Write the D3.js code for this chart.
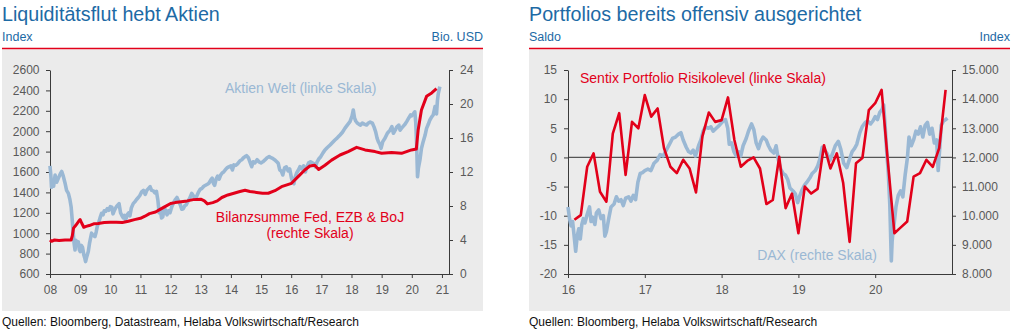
<!DOCTYPE html>
<html>
<head>
<meta charset="utf-8">
<script src="https://cdn.jsdelivr.net/npm/d3@7"></script>
<style>
  body { margin: 0; background: #fff; }
  svg { display: block; font-family: "Liberation Sans", Arial, sans-serif; }
</style>
</head>
<body>
<svg id="chart" width="1013" height="332"></svg>
<script>
// ---------- data ----------
// MSCI World ("Aktien Welt"), index points, [year, value]
const aktienWelt = [
  [2008.00,1660],[2008.03,1560],[2008.05,1450],[2008.09,1500],[2008.12,1460],[2008.17,1570],[2008.22,1500],
  [2008.28,1540],[2008.34,1580],[2008.39,1605],[2008.44,1560],[2008.50,1490],[2008.55,1420],[2008.61,1390],
  [2008.66,1330],[2008.70,1260],[2008.74,1120],[2008.77,1000],[2008.80,900],[2008.83,835],[2008.86,930],
  [2008.89,880],[2008.94,915],[2008.97,840],[2009.00,820],[2009.04,880],[2009.08,860],[2009.12,790],
  [2009.15,760],[2009.18,722],[2009.22,770],[2009.27,820],[2009.31,900],[2009.35,960],[2009.38,1000],
  [2009.43,980],[2009.49,966],[2009.53,1010],[2009.57,1070],[2009.61,1100],[2009.66,1150],[2009.71,1195],
  [2009.76,1180],[2009.80,1220],[2009.85,1215],[2009.90,1240],[2009.95,1225],[2010.00,1260],[2010.05,1255],
  [2010.09,1190],[2010.13,1220],[2010.18,1250],[2010.23,1270],[2010.29,1290],[2010.34,1200],[2010.38,1175],
  [2010.43,1150],[2010.47,1175],[2010.51,1130],[2010.56,1180],[2010.61,1200],[2010.65,1170],[2010.70,1250],
  [2010.76,1290],[2010.82,1310],[2010.87,1330],[2010.93,1350],[2010.98,1370],[2011.04,1405],[2011.10,1420],
  [2011.16,1380],[2011.21,1420],[2011.27,1440],[2011.32,1456],[2011.37,1420],[2011.43,1415],[2011.48,1395],
  [2011.53,1410],[2011.58,1320],[2011.62,1200],[2011.66,1230],[2011.70,1150],[2011.74,1160],[2011.79,1250],
  [2011.84,1220],[2011.88,1180],[2011.93,1220],[2011.98,1200],[2012.04,1260],[2012.10,1300],[2012.16,1330],
  [2012.21,1350],[2012.27,1310],[2012.32,1280],[2012.37,1235],[2012.42,1240],[2012.47,1270],[2012.52,1280],
  [2012.57,1310],[2012.63,1340],[2012.70,1390],[2012.75,1370],[2012.80,1340],[2012.86,1360],[2012.92,1400],
  [2012.98,1430],[2013.04,1440],[2013.10,1460],[2013.16,1470],[2013.22,1480],[2013.27,1490],[2013.33,1520],
  [2013.38,1540],[2013.42,1490],[2013.46,1470],[2013.51,1530],[2013.56,1560],[2013.61,1530],[2013.66,1570],
  [2013.71,1590],[2013.76,1600],[2013.81,1620],[2013.87,1640],[2013.93,1650],[2014.00,1660],[2014.05,1620],
  [2014.10,1670],[2014.16,1665],[2014.22,1680],[2014.30,1710],[2014.36,1720],[2014.42,1740],[2014.47,1751],
  [2014.52,1760],[2014.58,1740],[2014.63,1700],[2014.69,1652],[2014.74,1700],[2014.80,1690],[2014.87,1720],
  [2014.93,1700],[2015.00,1690],[2015.06,1700],[2015.13,1718],[2015.20,1740],[2015.27,1751],[2015.33,1740],
  [2015.40,1730],[2015.46,1718],[2015.52,1700],[2015.57,1685],[2015.62,1620],[2015.67,1610],[2015.72,1571],
  [2015.78,1640],[2015.84,1650],[2015.90,1610],[2015.95,1630],[2016.01,1540],[2016.05,1500],[2016.09,1485],
  [2016.12,1540],[2016.18,1590],[2016.24,1620],[2016.29,1652],[2016.35,1630],[2016.41,1660],[2016.47,1600],
  [2016.52,1650],[2016.58,1690],[2016.64,1700],[2016.70,1690],[2016.76,1680],[2016.80,1650],[2016.86,1700],
  [2016.92,1730],[2016.98,1750],[2017.06,1790],[2017.12,1816],[2017.20,1840],[2017.29,1865],[2017.37,1890],
  [2017.45,1914],[2017.53,1935],[2017.62,1963],[2017.70,1990],[2017.78,2028],[2017.86,2060],[2017.95,2094],
  [2018.02,2150],[2018.06,2208],[2018.10,2130],[2018.14,2100],[2018.19,2080],[2018.24,2070],[2018.30,2060],
  [2018.36,2080],[2018.42,2070],[2018.50,2061],[2018.56,2080],[2018.62,2090],[2018.69,2080],[2018.75,2040],
  [2018.80,1995],[2018.85,1930],[2018.89,1897],[2018.94,1870],[2018.98,1832],[2019.04,1900],[2019.11,1930],
  [2019.19,1980],[2019.28,2010],[2019.34,2045],[2019.39,1980],[2019.45,2010],[2019.50,2040],[2019.57,2060],
  [2019.61,2010],[2019.66,2030],[2019.72,2050],[2019.78,2070],[2019.83,2094],[2019.90,2130],[2019.96,2159],
  [2019.99,2150],[2020.05,2170],[2020.10,2190],[2020.13,2090],[2020.16,1881],[2020.19,1554],[2020.22,1640],
  [2020.27,1718],[2020.32,1830],[2020.38,1900],[2020.44,1960],[2020.49,2028],[2020.55,2070],[2020.60,2110],
  [2020.66,2140],[2020.71,2159],[2020.74,2200],[2020.77,2241],[2020.80,2180],[2020.82,2170],[2020.85,2300],
  [2020.88,2371],[2020.93,2437]
];

// Bilanzsumme Fed, EZB & BoJ, Bio. USD, [year, value]
const bilanzsumme = [
  [2008.00,4.0],[2008.05,3.85],[2008.15,4.0],[2008.30,3.95],[2008.50,4.0],[2008.70,4.0],[2008.74,4.5],
  [2008.78,5.4],[2008.85,5.7],[2008.95,6.2],[2009.00,6.4],[2009.05,6.0],[2009.12,5.5],[2009.20,5.6],
  [2009.30,5.7],[2009.45,5.9],[2009.60,5.95],[2009.80,6.05],[2010.00,6.1],[2010.20,6.1],[2010.40,6.05],
  [2010.60,6.2],[2010.80,6.4],[2011.00,6.55],[2011.15,6.8],[2011.30,7.1],[2011.50,7.3],[2011.65,7.6],
  [2011.80,7.9],[2012.00,8.3],[2012.15,8.4],[2012.35,8.5],[2012.55,8.6],[2012.75,8.75],[2013.00,8.8],
  [2013.12,8.6],[2013.22,8.25],[2013.40,8.4],[2013.55,8.6],[2013.70,9.0],[2013.90,9.3],[2014.10,9.5],
  [2014.30,9.7],[2014.47,9.85],[2014.63,9.7],[2014.85,9.6],[2015.05,9.5],[2015.24,9.5],[2015.46,9.8],
  [2015.68,10.27],[2016.01,10.67],[2016.23,11.45],[2016.45,12.24],[2016.62,12.7],[2016.78,12.8],
  [2016.91,12.3],[2017.12,12.8],[2017.34,13.4],[2017.62,14.0],[2017.89,14.4],[2018.17,14.9],[2018.45,14.6],
  [2018.78,14.4],[2019.00,14.2],[2019.33,14.3],[2019.66,14.2],[2019.99,14.6],[2020.15,14.7],[2020.21,16.9],
  [2020.32,19.3],[2020.49,20.9],[2020.66,21.3],[2020.82,21.8]
];

// Sentix Portfolio Risikolevel, monthly from Feb 2016
const sentixStart = [2016, 2];
const sentix = [
  -10.7, -9.9, -1.6, 0.7, -5.9, -7.6, 4.1, 7.6, -3.0, 6.1, 5.0,
  10.7, 7.0, 8.4, 1.6, -1.6, -2.7, -0.4, -1.9, -6.0, 3.6, 7.7, 6.1,
  6.4, 10.3, 3.0, -1.6, -0.6, 0.0, -1.9, -8.0, -7.3, 0.1, -8.7, -6.2,
  -13.0, -5.0, -6.2, -5.4, 2.1, -1.9, 0.7, -4.4, -14.5, -1.0, -0.1, 8.1,
  9.3, 11.6, -1.0, -13.0, -12.0, -11.0, -3.3, -2.7, -0.4, -1.6, 1.6, 11.6
];

// DAX, index points, [year, value]
const dax = [
  [2016.00,10300],[2016.02,9900],[2016.04,9650],[2016.06,9800],[2016.08,9300],[2016.10,8780],[2016.12,9300],
  [2016.14,9550],[2016.16,9200],[2016.18,9700],[2016.20,9900],[2016.22,9750],[2016.25,10050],[2016.28,10300],
  [2016.30,9800],[2016.32,9950],[2016.35,9700],[2016.37,10100],[2016.40,10200],[2016.43,9900],[2016.46,10000],
  [2016.48,9300],[2016.50,9450],[2016.53,9900],[2016.56,10300],[2016.60,10400],[2016.63,10650],[2016.66,10500],
  [2016.69,10550],[2016.72,10350],[2016.75,10600],[2016.79,10650],[2016.82,10500],[2016.85,10700],[2016.88,10550],
  [2016.91,11150],[2016.94,11450],[2016.97,11480],[2017.00,11550],[2017.04,11600],[2017.08,11550],[2017.12,11800],
  [2017.16,11900],[2017.20,12100],[2017.24,12050],[2017.28,12250],[2017.32,12450],[2017.36,12650],[2017.40,12700],
  [2017.44,12800],[2017.47,12850],[2017.50,12600],[2017.54,12350],[2017.57,12200],[2017.60,12150],[2017.63,12250],
  [2017.66,12050],[2017.70,12400],[2017.73,12600],[2017.76,12900],[2017.79,13050],[2017.83,13000],[2017.86,13050],
  [2017.89,12900],[2017.93,13000],[2017.97,13100],[2018.02,13250],[2018.05,13300],[2018.08,13000],[2018.10,12450],
  [2018.13,12500],[2018.16,12200],[2018.19,12050],[2018.22,12200],[2018.25,12050],[2018.28,12400],[2018.32,12650],
  [2018.35,12900],[2018.39,13150],[2018.42,12950],[2018.45,12500],[2018.48,12300],[2018.51,12550],[2018.54,12700],
  [2018.58,12600],[2018.61,12400],[2018.64,12250],[2018.68,12150],[2018.71,12400],[2018.74,11900],[2018.77,11600],
  [2018.80,11450],[2018.83,11400],[2018.86,11250],[2018.89,10950],[2018.93,10850],[2018.96,10750],[2018.99,10450],
  [2019.02,10700],[2019.05,10900],[2019.08,11050],[2019.11,11150],[2019.15,11300],[2019.18,11450],[2019.22,11550],
  [2019.25,11700],[2019.28,11950],[2019.31,12350],[2019.34,12250],[2019.37,12150],[2019.41,11900],[2019.44,12100],
  [2019.48,12400],[2019.52,12550],[2019.55,12300],[2019.59,11800],[2019.63,11650],[2019.66,11900],[2019.70,12200],
  [2019.73,12300],[2019.76,12450],[2019.80,12850],[2019.83,13050],[2019.87,13200],[2019.90,13250],[2019.94,13150],
  [2019.97,13250],[2020.00,13400],[2020.03,13300],[2020.06,13550],[2020.09,13650],[2020.11,13800],[2020.13,13050],
  [2020.15,12200],[2020.17,11500],[2020.19,10400],[2020.21,8450],[2020.22,9100],[2020.23,9400],[2020.25,9800],
  [2020.27,10300],[2020.30,10700],[2020.33,10850],[2020.36,10650],[2020.39,11400],[2020.42,12000],[2020.44,12700],
  [2020.47,12400],[2020.50,12600],[2020.53,12900],[2020.56,12800],[2020.59,13050],[2020.62,12700],[2020.65,13100],
  [2020.68,13200],[2020.71,12800],[2020.74,13000],[2020.77,12500],[2020.80,12600],[2020.82,11550],[2020.84,12300],
  [2020.86,13100],[2020.89,13250],[2020.92,13300],[2020.94,13350]
];

// axis ticks
const leftYears = [2008,2009,2010,2011,2012,2013,2014,2015,2016,2017,2018,2019,2020,2021];
const leftYearLabels = ["08","09","10","11","12","13","14","15","16","17","18","19","20","21"];
const worldTicks = [600,800,1000,1200,1400,1600,1800,2000,2200,2400,2600];
const balanceTicks = [0,4,8,12,16,20,24];
const rightYears = [2016,2017,2018,2019,2020];
const rightYearLabels = ["16","17","18","19","20"];
const sentixTicks = [-20,-15,-10,-5,0,5,10,15];
const daxTicks = [8000,9000,10000,11000,12000,13000,14000,15000];

// ---------- styling ----------
const BLUE_TXT = "#1d6aa5";
const RED = "#e2001a";
const LINE_BLUE = "#9ab8d4";
const PANEL_BG = "#ebebeb";
const TICK_TXT = "#595959";
const AXIS = "#3a3a3a";

const de = d3.formatLocale({decimal: ",", thousands: ".", grouping: [3], currency: ["", " €"], minus: "-"});
const fmtThousands = de.format(",");
const fmtPlain = de.format("d");

const svg = d3.select("#chart");

function styleAxis(g) {
  g.selectAll(".domain").attr("stroke", AXIS).attr("stroke-width", 1);
  g.selectAll(".tick line").attr("stroke", AXIS).attr("stroke-width", 1);
  g.selectAll(".tick text").attr("fill", TICK_TXT).style("font-size", "12px")
    .style("font-family", "'Liberation Sans', Arial, sans-serif");
}

function panelFrame(x0, x1, title, leftUnit, rightUnit, source) {
  svg.append("text").attr("x", x0).attr("y", 21)
    .attr("fill", BLUE_TXT).style("font-size", "19.7px").text(title);
  svg.append("text").attr("x", x0).attr("y", 40.7)
    .attr("fill", BLUE_TXT).style("font-size", "12.5px").text(leftUnit);
  svg.append("text").attr("x", x1).attr("y", 40.7).attr("text-anchor", "end")
    .attr("fill", BLUE_TXT).style("font-size", "12.5px").text(rightUnit);
  svg.append("rect").attr("x", x0).attr("y", 49.5).attr("width", x1 - x0).attr("height", 261.5)
    .attr("fill", PANEL_BG);
  svg.append("line").attr("x1", x0).attr("x2", x1).attr("y1", 48.6).attr("y2", 48.6)
    .attr("stroke", RED).attr("stroke-width", 1.5);
  svg.append("text").attr("x", x0).attr("y", 326)
    .attr("fill", "#111").style("font-size", "12px").text(source);
}

// ---------- left panel ----------
panelFrame(2, 483, "Liquiditätsflut hebt Aktien", "Index", "Bio. USD",
  "Quellen: Bloomberg, Datastream, Helaba Volkswirtschaft/Research");

const xL = d3.scaleLinear().domain([2008, 2021.234]).range([50, 449]);
const yWorld = d3.scaleLinear().domain([600, 2600]).range([274, 70]);
const yBal = d3.scaleLinear().domain([0, 24]).range([274, 70]);

const gL = svg.append("g");
gL.append("g").attr("transform", "translate(50,0)")
  .call(d3.axisLeft(yWorld).tickValues(worldTicks).tickFormat(fmtPlain)
    .tickSize(4).tickSizeOuter(0).tickPadding(6.5))
  .call(styleAxis);
gL.append("g").attr("transform", "translate(449,0)")
  .call(d3.axisRight(yBal).tickValues(balanceTicks).tickFormat(fmtPlain)
    .tickSize(4).tickSizeOuter(0).tickPadding(7))
  .call(styleAxis);
gL.append("g").attr("transform", "translate(0,274)")
  .call(d3.axisBottom(xL).tickValues(leftYears).tickFormat((d, i) => leftYearLabels[i])
    .tickSize(4).tickSizeOuter(0).tickPadding(7.5))
  .call(styleAxis);

gL.append("path").datum(aktienWelt)
  .attr("fill", "none").attr("stroke", LINE_BLUE).attr("stroke-width", 3.6)
  .attr("stroke-linejoin", "round")
  .attr("d", d3.line().x(d => xL(d[0])).y(d => yWorld(d[1])));
gL.append("path").datum(bilanzsumme)
  .attr("fill", "none").attr("stroke", RED).attr("stroke-width", 3)
  .attr("stroke-linejoin", "round")
  .attr("d", d3.line().x(d => xL(d[0])).y(d => yBal(d[1])));

gL.append("text").attr("x", 225).attr("y", 93).attr("fill", LINE_BLUE)
  .style("font-size", "14px").text("Aktien Welt (linke Skala)");
gL.append("text").attr("x", 310).attr("y", 222).attr("text-anchor", "middle").attr("fill", RED)
  .style("font-size", "14px").text("Bilanzsumme Fed, EZB & BoJ");
gL.append("text").attr("x", 310).attr("y", 238).attr("text-anchor", "middle").attr("fill", RED)
  .style("font-size", "14px").text("(rechte Skala)");

// ---------- right panel ----------
panelFrame(529, 1010, "Portfolios bereits offensiv ausgerichtet", "Saldo", "Index",
  "Quellen: Bloomberg, Helaba Volkswirtschaft/Research");

const xR = d3.scaleLinear().domain([2016, 2021.0]).range([568, 952]);
const ySent = d3.scaleLinear().domain([-20, 15]).range([274, 70]);
const yDax = d3.scaleLinear().domain([8000, 15000]).range([274, 70]);

const gR = svg.append("g");
gR.append("line").attr("x1", 568).attr("x2", 952).attr("y1", ySent(0)).attr("y2", ySent(0))
  .attr("stroke", "#555").attr("stroke-width", 1.3);
gR.append("g").attr("transform", "translate(568,0)")
  .call(d3.axisLeft(ySent).tickValues(sentixTicks).tickFormat(fmtPlain)
    .tickSize(4).tickSizeOuter(0).tickPadding(7))
  .call(styleAxis);
gR.append("g").attr("transform", "translate(952,0)")
  .call(d3.axisRight(yDax).tickValues(daxTicks).tickFormat(fmtThousands)
    .tickSize(4).tickSizeOuter(0).tickPadding(6))
  .call(styleAxis);
gR.append("g").attr("transform", "translate(0,274)")
  .call(d3.axisBottom(xR).tickValues(rightYears).tickFormat((d, i) => rightYearLabels[i])
    .tickSize(4).tickSizeOuter(0).tickPadding(7.5))
  .call(styleAxis);

gR.append("path").datum(dax)
  .attr("fill", "none").attr("stroke", LINE_BLUE).attr("stroke-width", 3.6)
  .attr("stroke-linejoin", "round")
  .attr("d", d3.line().x(d => xR(d[0])).y(d => yDax(d[1])));

const sentixSeries = sentix.map((v, i) => [sentixStart[0] + (sentixStart[1] - 1 + i) / 12, v]);
gR.append("path").datum(sentixSeries)
  .attr("fill", "none").attr("stroke", RED).attr("stroke-width", 2.6)
  .attr("stroke-linejoin", "round")
  .attr("d", d3.line().x(d => xR(d[0])).y(d => ySent(d[1])));

gR.append("text").attr("x", 580).attr("y", 83).attr("fill", RED)
  .style("font-size", "14px").text("Sentix Portfolio Risikolevel (linke Skala)");
gR.append("text").attr("x", 877).attr("y", 260).attr("text-anchor", "end").attr("fill", LINE_BLUE)
  .style("font-size", "14px").text("DAX (rechte Skala)");
</script>
</body>
</html>
